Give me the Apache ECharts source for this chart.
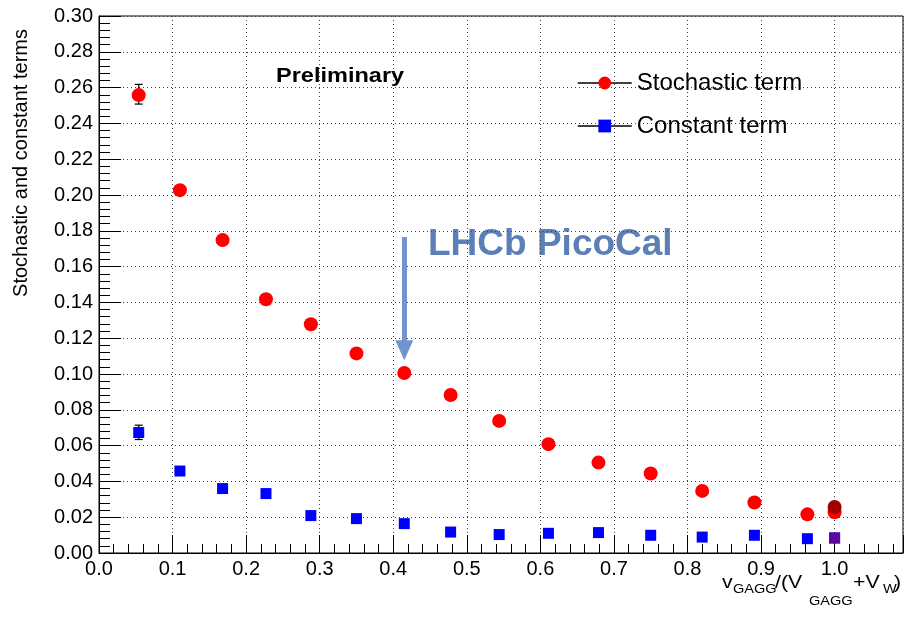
<!DOCTYPE html>
<html><head><meta charset="utf-8">
<script src="https://cdn.jsdelivr.net/npm/echarts@6/dist/echarts.min.js"></script>
<style>html,body{margin:0;padding:0;background:#fff}#c{width:910px;height:620px}</style>
</head><body><div id="c"></div>
<script>
// ---- data ----
const xValues = [0.054, 0.110, 0.168, 0.227, 0.288, 0.350, 0.415, 0.478, 0.544, 0.611, 0.679, 0.750, 0.820, 0.891, 0.963, 1.000];
const stochastic = [0.2558, 0.2027, 0.1748, 0.1418, 0.1278, 0.1115, 0.1006, 0.0883, 0.0738, 0.0608, 0.0505, 0.0444, 0.0347, 0.0282, 0.0216, 0.0228];
const constant = [0.0673, 0.0458, 0.0360, 0.0332, 0.0209, 0.0192, 0.0164, 0.0117, 0.0103, 0.0110, 0.0114, 0.0099, 0.0089, 0.0099, 0.0080, 0.0084];
const stochErrors = [[0.054, 0.2508, 0.2618]];
const constErrors = [[0.054, 0.0634, 0.0714]];
const extraStoch = [[1.0, 0.0257]];
const extraConst = [[1.0, 0.0084]];
const arrowFrom = [0.415, 0.1765];
const arrowTo = [0.415, 0.1133];
const seriesNames = ['Stochastic term', 'Constant term'];
const xTicks = [0.0, 0.1, 0.2, 0.3, 0.4, 0.5, 0.6, 0.7, 0.8, 0.9, 1.0];

const FONT = '"Liberation Sans", Arial, Helvetica, sans-serif';
const chart = echarts.init(document.getElementById('c'), null, {renderer: 'canvas'});

function errRender(params, api) {
  const x = api.value(0), lo = api.value(1), hi = api.value(2);
  const p1 = api.coord([x, lo]), p2 = api.coord([x, hi]);
  const cap = 4;
  const st = {stroke: '#000', lineWidth: 1.2};
  return {type: 'group', children: [
    {type: 'line', shape: {x1: p1[0], y1: p1[1], x2: p2[0], y2: p2[1]}, style: st},
    {type: 'line', shape: {x1: p1[0]-cap, y1: p1[1], x2: p1[0]+cap, y2: p1[1]}, style: st},
    {type: 'line', shape: {x1: p2[0]-cap, y1: p2[1], x2: p2[0]+cap, y2: p2[1]}, style: st}
  ]};
}

const gridLine = {show: true, lineStyle: {color: '#444', type: [1, 3], width: 1}};
const SX = 1.12;
function titlePiece(text, x, y, size) {
  return {type: 'text', x: x, y: y, scaleX: SX, silent: true,
    style: {text: text, fontSize: size, fontFamily: FONT, fill: '#000', verticalAlign: 'bottom'}};
}

const option = {
  animation: false,
  backgroundColor: '#fff',
  textStyle: {fontFamily: FONT},
  grid: {left: 99, right: 7, top: 16, bottom: 67, show: true, borderColor: '#000', borderWidth: 1, backgroundColor: 'transparent'},
  xAxis: {
    type: 'value', min: 0, max: 1.093, interval: 0.1,
    axisLine: {show: true, lineStyle: {color: '#000', width: 1}},
    axisTick: {show: true, inside: true, length: 18, lineStyle: {color: '#000'}},
    minorTick: {show: true, splitNumber: 5, length: 9, lineStyle: {color: '#000'}},
    splitLine: gridLine,
    axisLabel: {fontSize: 20, color: '#000', margin: 6, fontFamily: FONT, showMaxLabel: false,
      formatter: function (v) {
        for (const t of xTicks) { if (Math.abs(v - t) < 1e-6) return t.toFixed(1); }
        return '';
      }}
  },
  yAxis: {
    type: 'value', min: 0, max: 0.30, interval: 0.02,
    axisLine: {show: true, lineStyle: {color: '#000', width: 1}},
    axisTick: {show: true, inside: true, length: 22, lineStyle: {color: '#000'}},
    minorTick: {show: true, splitNumber: 5, length: 11, lineStyle: {color: '#000'}},
    splitLine: gridLine,
    axisLabel: {fontSize: 20, color: '#000', margin: 6, fontFamily: FONT, formatter: v => v.toFixed(2)}
  },
  legend: {
    data: seriesNames, orient: 'vertical', left: 572, top: 66,
    itemWidth: 54, itemHeight: 16, itemGap: 19, selectedMode: false,
    textStyle: {fontSize: 24, color: '#000', lineHeight: 24, fontFamily: FONT},
    lineStyle: {color: '#000', width: 1.5, opacity: 1, type: 'solid'}
  },
  series: [
    {type: 'custom', renderItem: errRender, data: stochErrors, z: 1, silent: true},
    {type: 'custom', renderItem: errRender, data: constErrors, z: 1, silent: true},
    {
      name: seriesNames[0], type: 'line', symbol: 'circle', symbolSize: 14, z: 3,
      itemStyle: {color: '#ff0000'}, lineStyle: {width: 0, color: '#ff0000'},
      emphasis: {disabled: true},
      data: xValues.map((x, i) => [x, stochastic[i]]),
      markLine: {
        silent: true, symbol: ['none', 'triangle'], symbolSize: [18, 20],
        lineStyle: {color: '#7094cf', width: 5, type: 'solid'},
        label: {show: false}, emphasis: {disabled: true},
        data: [[{coord: arrowFrom}, {coord: arrowTo}]]
      }
    },
    {
      name: seriesNames[1], type: 'line', symbol: 'rect', symbolSize: 11, z: 3,
      itemStyle: {color: '#0000ff'}, lineStyle: {width: 0, color: '#0000ff'},
      emphasis: {disabled: true},
      data: xValues.map((x, i) => [x, constant[i]])
    },
    {type: 'scatter', symbol: 'circle', symbolSize: 14, z: 4, itemStyle: {color: '#a00000', opacity: 1}, data: extraStoch, silent: true},
    {type: 'scatter', symbol: 'rect', symbolSize: 11, z: 4, itemStyle: {color: '#5a0aa0', opacity: 1}, data: extraConst, silent: true}
  ],
  graphic: [
    {type: 'text', x: 21, y: 163, rotation: Math.PI / 2, silent: true,
      style: {text: 'Stochastic and constant terms', fontSize: 20, fontFamily: FONT, fill: '#000', align: 'center', verticalAlign: 'middle'}},
    {type: 'text', x: 276, y: 76, scaleX: 1.12, silent: true,
      style: {text: 'Preliminary', fontSize: 21, fontWeight: 'bold', fontFamily: FONT, fill: '#000', align: 'left', verticalAlign: 'middle'}},
    {type: 'text', x: 428, y: 245, silent: true,
      style: {text: 'LHCb PicoCal', fontSize: 37, fontWeight: 'bold', fontFamily: FONT, fill: '#5b7fb6', align: 'left', verticalAlign: 'middle'}},
    titlePiece('v', 722, 592, 19),
    titlePiece('GAGG', 733, 596, 13),
    titlePiece('/(V', 775, 592, 19),
    titlePiece('GAGG', 809, 608, 13),
    titlePiece('+V', 853, 592, 19),
    titlePiece('W', 883, 596, 13),
    titlePiece(')', 894, 592, 19)
  ]
};
chart.setOption(option);
</script>
</body></html>
